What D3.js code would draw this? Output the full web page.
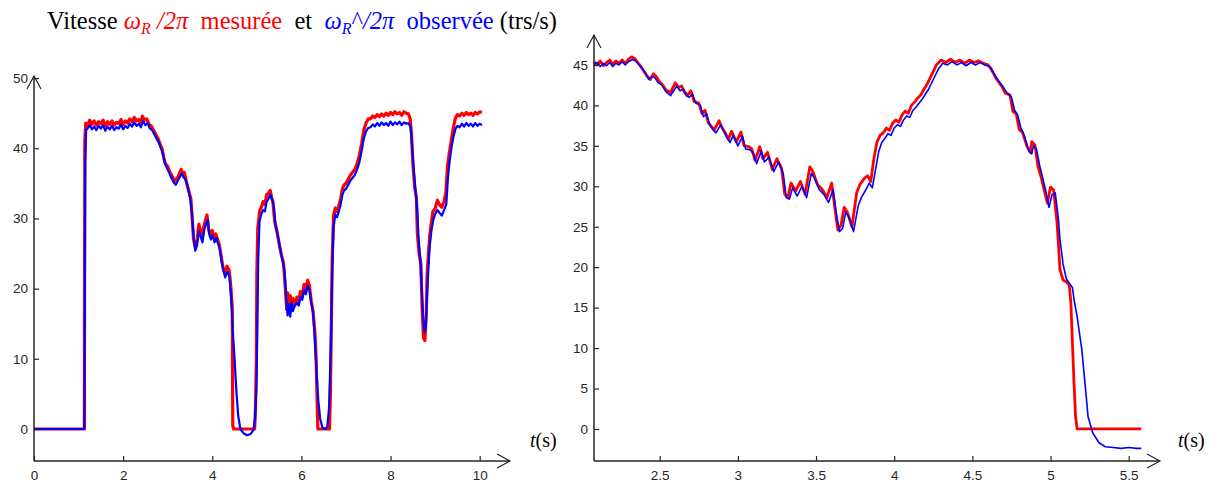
<!DOCTYPE html>
<html><head><meta charset="utf-8">
<script src="https://cdn.jsdelivr.net/npm/d3@7"></script>
<style>
html,body{margin:0;padding:0;background:#fff;}
svg{display:block;}
</style></head>
<body>
<svg id="chart" width="1217" height="486"></svg>
<script>
// ---------- DATA ----------
const leftXTicks = [0, 2, 4, 6, 8, 10];
const leftYTicks = [0, 10, 20, 30, 40, 50];
const rightXTicks = [2.5, 3, 3.5, 4, 4.5, 5, 5.5];
const rightYTicks = [0, 5, 10, 15, 20, 25, 30, 35, 40, 45];

const leftRedT = [0,1.13,1.14,1.16,1.2,1.25,1.3,1.35,1.4,1.45,1.5,1.55,1.6,1.65,1.7,1.75,1.8,1.85,1.9,1.95,2.0,2.05,2.1,2.15,2.2,2.25,2.3,2.35,2.4,2.43,2.48,2.53,2.58,2.63,2.68,2.73,2.78,2.83,2.88,2.92,2.95,3.0,3.05,3.1,3.15,3.2,3.25,3.3,3.33,3.37,3.42,3.47,3.52,3.55,3.58,3.62,3.66,3.7,3.74,3.77,3.8,3.84,3.88,3.92,3.96,4.0,4.04,4.08,4.12,4.16,4.2,4.24,4.28,4.33,4.38,4.42,4.45,4.46,4.48,4.95,4.97,4.99,5.0,5.02,5.06,5.1,5.14,5.18,5.22,5.26,5.3,5.33,5.36,5.4,5.45,5.5,5.55,5.6,5.64,5.67,5.69,5.72,5.75,5.78,5.81,5.85,5.9,5.94,5.98,6.02,6.06,6.1,6.14,6.18,6.22,6.26,6.3,6.33,6.36,6.37,6.63,6.65,6.67,6.69,6.72,6.76,6.8,6.84,6.88,6.92,6.96,7.0,7.05,7.1,7.15,7.2,7.25,7.3,7.35,7.4,7.45,7.5,7.55,7.6,7.65,7.7,7.75,7.8,7.85,7.9,7.95,8.0,8.05,8.1,8.15,8.2,8.25,8.3,8.35,8.4,8.44,8.47,8.5,8.54,8.58,8.6,8.64,8.68,8.71,8.74,8.77,8.8,8.82,8.85,8.88,8.92,8.95,9.0,9.05,9.1,9.15,9.2,9.24,9.28,9.32,9.36,9.4,9.45,9.5,9.55,9.6,9.65,9.7,9.75,9.8,9.85,9.9,9.95,10.0,10.05];
const leftRedV = [0,0,41,43.6,43.2,44.0,43.4,43.9,43.3,43.8,43.5,44.0,43.2,43.8,43.4,43.9,43.3,43.7,43.5,44.1,43.4,43.9,43.6,44.2,43.8,44.4,43.9,44.1,43.6,44.6,44.0,44.2,43.4,43.2,42.6,42.0,41.4,40.6,39.8,38.4,37.8,37.4,36.6,36.0,35.4,35.6,36.2,37.0,36.3,36.6,35.2,34.0,32.8,30.0,27.0,25.8,27.0,29.2,28.0,27.2,28.6,29.6,30.5,28.4,27.6,28.3,27.2,27.8,27.0,26.2,24.6,23.0,22.2,23.2,22.6,20.0,17.0,0.5,0,0,3,10,22,28.5,31.0,31.6,32.4,32.0,33.4,33.6,34.0,33.0,32.4,29.6,28.2,26.4,24.8,23.6,20.0,17.0,19.4,16.6,19.0,17.2,18.6,17.6,18.8,18.2,19.6,19.0,20.6,20.0,21.2,20.4,18.2,16.8,14.0,10.0,2.0,0,0,5,14,24,30.4,31.5,31.0,31.8,32.8,34.2,34.8,35.0,35.6,36.2,36.6,37.0,37.8,39.0,40.6,42.6,43.6,44.2,44.2,44.6,44.4,44.8,44.5,44.9,44.6,45.0,44.7,45.1,44.8,45.2,44.9,45.1,44.7,45.2,45.0,44.9,44.2,42.0,38.0,34.5,33.0,28.0,25.0,23.5,17.0,13.0,12.6,16.0,22.0,25.0,27.6,29.6,31.0,31.4,32.6,32.0,31.6,32.4,33.6,37.6,39.4,41.0,42.6,44.2,44.8,44.6,45.0,44.7,45.1,44.8,45.0,44.7,45.1,44.9,45.2,45.1];

const leftBlueT = [0,1.13,1.15,1.17,1.2,1.25,1.3,1.35,1.4,1.45,1.5,1.55,1.6,1.65,1.7,1.75,1.8,1.85,1.9,1.95,2.0,2.05,2.1,2.15,2.2,2.25,2.3,2.35,2.4,2.45,2.5,2.55,2.6,2.65,2.7,2.75,2.8,2.85,2.9,2.94,2.98,3.03,3.08,3.13,3.18,3.23,3.28,3.32,3.36,3.4,3.45,3.5,3.54,3.58,3.62,3.66,3.7,3.74,3.78,3.82,3.86,3.9,3.93,3.97,4.01,4.05,4.09,4.13,4.17,4.21,4.25,4.29,4.34,4.39,4.43,4.46,4.5,4.54,4.58,4.63,4.7,4.78,4.86,4.92,4.96,4.99,5.01,5.03,5.06,5.1,5.14,5.18,5.22,5.26,5.3,5.34,5.38,5.42,5.47,5.52,5.57,5.62,5.66,5.69,5.72,5.75,5.78,5.81,5.85,5.9,5.94,5.98,6.02,6.06,6.1,6.14,6.18,6.22,6.26,6.3,6.34,6.38,6.42,6.47,6.53,6.58,6.62,6.66,6.69,6.72,6.76,6.8,6.84,6.88,6.92,6.96,7.0,7.05,7.1,7.15,7.2,7.25,7.3,7.35,7.4,7.45,7.5,7.55,7.6,7.65,7.7,7.75,7.8,7.85,7.9,7.95,8.0,8.05,8.1,8.15,8.2,8.25,8.3,8.35,8.4,8.45,8.48,8.52,8.56,8.6,8.63,8.67,8.7,8.73,8.76,8.79,8.82,8.85,8.88,8.92,8.96,9.0,9.05,9.1,9.15,9.2,9.25,9.29,9.33,9.37,9.41,9.46,9.5,9.55,9.6,9.65,9.7,9.75,9.8,9.85,9.9,9.95,10.0,10.05];
const leftBlueV = [0,0,38,42.6,42.8,43.3,42.7,43.1,42.6,43.2,42.8,43.3,42.5,43.1,42.7,43.2,42.6,43.0,42.8,43.4,42.7,43.2,42.9,43.5,43.1,43.7,43.2,43.5,43.0,43.9,43.3,43.6,42.8,42.6,42.0,41.4,40.8,40.0,39.0,37.8,37.2,36.6,35.8,35.2,34.8,35.4,36.0,36.4,35.8,35.6,34.4,33.0,31.0,27.5,25.4,26.2,28.2,27.4,26.6,28.4,29.2,29.8,27.8,27.0,27.6,26.6,27.2,26.4,25.6,23.8,22.6,21.6,22.4,21.6,18.0,14.0,10.0,5.5,2.0,0.0,-0.6,-0.9,-0.7,-0.2,1.5,6,14,24,29.6,30.6,31.2,31.0,32.4,32.8,33.4,32.8,31.8,29.0,27.6,25.8,24.2,22.6,18.6,16.2,17.8,16.0,18.0,16.8,17.6,18.0,17.6,18.8,18.4,19.8,19.2,20.4,19.8,18.0,16.6,13.0,8.0,4.0,1.5,0.2,0.0,0.3,3.0,12,22,28.6,30.6,30.2,31.0,32.0,33.4,34.0,34.2,34.8,35.4,35.8,36.2,37.0,38.0,39.6,41.4,42.4,42.9,43.0,43.4,43.1,43.6,43.2,43.7,43.3,43.6,43.2,43.8,43.3,43.7,43.4,43.8,43.3,43.7,43.5,43.6,43.0,40.5,37.0,34.0,31.0,27.0,24.0,20.0,16.0,13.8,14.5,19.0,23.0,26.2,28.4,29.8,30.6,31.2,30.8,30.4,31.2,32.0,36.0,38.4,40.2,41.6,42.8,43.2,43.0,43.5,43.1,43.6,43.2,43.5,43.1,43.6,43.2,43.5,43.3];

const rightRedT = [2.08,2.1,2.12,2.14,2.16,2.18,2.2,2.22,2.24,2.26,2.28,2.3,2.32,2.34,2.36,2.38,2.4,2.42,2.44,2.46,2.48,2.5,2.52,2.54,2.57,2.6,2.62,2.64,2.66,2.68,2.7,2.72,2.75,2.77,2.79,2.81,2.83,2.85,2.88,2.9,2.92,2.94,2.96,2.99,3.02,3.04,3.07,3.09,3.11,3.14,3.16,3.19,3.22,3.25,3.28,3.3,3.32,3.34,3.37,3.4,3.43,3.46,3.48,3.51,3.54,3.57,3.6,3.62,3.64,3.66,3.68,3.7,3.73,3.76,3.78,3.81,3.83,3.85,3.87,3.89,3.91,3.93,3.95,3.97,3.99,4.01,4.03,4.05,4.07,4.09,4.11,4.13,4.15,4.17,4.19,4.21,4.23,4.25,4.27,4.3,4.33,4.36,4.39,4.42,4.45,4.48,4.51,4.54,4.57,4.6,4.62,4.65,4.69,4.71,4.74,4.76,4.78,4.8,4.82,4.85,4.87,4.88,4.9,4.92,4.94,4.96,4.98,5.0,5.02,5.04,5.05,5.06,5.08,5.1,5.12,5.13,5.14,5.15,5.16,5.17,5.58];
const rightRedV = [45.4,45.0,45.5,44.9,45.3,45.6,45.1,45.5,45.2,45.6,45.2,45.7,46.0,45.8,45.3,44.8,44.2,43.6,43.2,43.9,43.5,42.9,42.5,41.9,41.6,42.8,42.2,42.4,41.6,41.3,41.8,40.5,40.3,39.0,39.4,37.9,37.4,37.0,38.1,37.2,36.6,35.8,36.8,35.5,36.7,35.0,34.9,34.6,33.2,34.9,33.4,34.2,32.1,33.4,32.2,29.0,28.6,30.4,29.4,30.6,29.0,32.4,31.8,30.2,29.6,28.6,30.4,27.4,24.6,25.2,27.4,26.8,25.0,29.2,30.2,31.0,31.3,30.6,33.4,35.5,36.3,36.6,37.2,36.9,37.8,38.2,37.9,38.8,39.3,39.0,40.0,40.4,40.9,41.3,42.0,42.6,43.4,44.2,45.0,45.6,45.3,45.7,45.3,45.6,45.2,45.6,45.3,45.5,45.2,45.0,44.5,43.4,42.3,41.5,41.3,39.2,39.0,37.0,36.7,34.9,34.2,35.5,35.1,32.4,31.1,29.5,27.9,29.9,29.5,25.8,23.0,19.7,18.4,18.2,17.8,15.6,10.6,5.7,1.5,0,0];

const rightBlueT = [2.08,2.1,2.12,2.14,2.16,2.18,2.2,2.22,2.24,2.26,2.28,2.3,2.33,2.35,2.37,2.39,2.41,2.43,2.45,2.47,2.49,2.51,2.54,2.57,2.61,2.63,2.65,2.67,2.69,2.71,2.73,2.76,2.78,2.8,2.82,2.84,2.86,2.89,2.91,2.93,2.95,2.97,3.0,3.03,3.05,3.08,3.1,3.12,3.15,3.17,3.2,3.23,3.26,3.29,3.31,3.33,3.35,3.38,3.41,3.44,3.47,3.49,3.52,3.55,3.58,3.61,3.63,3.65,3.67,3.69,3.71,3.74,3.77,3.79,3.82,3.84,3.86,3.88,3.9,3.92,3.94,3.96,3.98,4.0,4.02,4.04,4.06,4.08,4.1,4.12,4.14,4.16,4.18,4.2,4.22,4.24,4.26,4.28,4.31,4.34,4.37,4.4,4.43,4.46,4.49,4.52,4.55,4.58,4.61,4.63,4.66,4.7,4.72,4.75,4.77,4.79,4.81,4.83,4.86,4.88,4.89,4.91,4.93,4.95,4.97,4.99,5.01,5.03,5.05,5.06,5.08,5.1,5.12,5.14,5.15,5.17,5.2,5.22,5.24,5.27,5.31,5.35,5.4,5.45,5.5,5.55,5.58];
const rightBlueV = [45.0,45.3,44.8,45.2,44.9,45.3,44.8,45.2,45.0,45.4,45.0,45.4,45.7,45.4,45.0,44.5,44.0,43.2,43.6,43.4,42.8,42.6,41.7,41.2,42.4,41.8,42.0,41.2,41.0,41.4,40.3,40.0,38.6,39.0,37.6,37.0,36.6,37.6,36.8,36.0,35.4,36.3,35.0,36.2,34.6,34.5,34.0,32.8,34.4,33.0,33.6,31.8,33.0,31.6,28.6,28.4,29.8,28.8,30.0,28.6,31.6,31.0,29.6,29.0,28.0,29.6,26.6,24.4,24.8,26.8,26.2,24.4,27.6,28.6,29.6,30.4,29.8,32.0,34.2,35.4,35.9,36.5,36.3,37.2,37.6,37.4,38.2,38.7,38.5,39.4,39.8,40.3,40.8,41.4,42.0,42.8,43.6,44.4,45.2,45.0,45.4,45.0,45.3,44.9,45.3,45.0,45.3,45.0,44.8,44.2,43.2,42.2,41.6,41.0,39.4,38.8,37.2,36.4,34.4,34.0,35.0,34.6,32.6,31.0,29.4,27.4,29.0,29.2,26.0,23.5,20.4,18.6,18.0,17.5,16.0,13.9,9.8,5.7,1.5,-0.5,-1.7,-2.2,-2.3,-2.4,-2.3,-2.4,-2.4];

// ---------- DRAWING ----------
const svg = d3.select("#chart");
const axisColor = "#262626";
const RED = "#ff0000", BLUE = "#0000ff";

function panel(cfg) {
  const x = d3.scaleLinear().domain(cfg.xDomain).range(cfg.xRange);
  const y = d3.scaleLinear().domain(cfg.yDomain).range(cfg.yRange);
  const g = svg.append("g");

  const line = d3.line().x(d => x(d[0])).y(d => y(d[1])).curve(d3.curveLinear);
  cfg.series.forEach(s => {
    g.append("path")
      .datum(d3.zip(s.t, s.v))
      .attr("fill", "none")
      .attr("stroke", s.color)
      .attr("stroke-width", s.width)
      .attr("stroke-linejoin", "round")
      .attr("d", line);
  });

  const xAxis = d3.axisBottom(x).tickValues(cfg.xTicks).tickSizeInner(-5).tickSizeOuter(0).tickPadding(9)
    .tickFormat(d3.format("~g"));
  const gx = g.append("g").attr("transform", `translate(0,${cfg.yRange[0]})`).call(xAxis);
  const yAxis = d3.axisLeft(y).tickValues(cfg.yTicks).tickSizeInner(-5).tickSizeOuter(0).tickPadding(6)
    .tickFormat(d3.format("~g"));
  const gy = g.append("g").attr("transform", `translate(${cfg.xRange[0]},0)`).call(yAxis);

  [gx, gy].forEach(a => {
    a.select(".domain").remove();
    a.selectAll(".tick line").attr("stroke", axisColor).attr("stroke-width", 1.2);
    a.selectAll(".tick text").attr("fill", axisColor)
      .style("font-family", "'Liberation Sans', Arial, sans-serif").style("font-size", "13.5px");
  });

  const x0 = cfg.xRange[0], x1 = cfg.xRange[1], y0 = cfg.yRange[0], y1 = cfg.yRange[1];
  g.append("line").attr("x1", x0).attr("x2", x1).attr("y1", y0).attr("y2", y0)
    .attr("stroke", axisColor).attr("stroke-width", 1.5);
  g.append("line").attr("x1", x0).attr("x2", x0).attr("y1", y0).attr("y2", y1)
    .attr("stroke", axisColor).attr("stroke-width", 1.5);
  g.append("path").attr("d", `M${x0 - 7},${y1 + 13}L${x0},${y1}L${x0 + 7},${y1 + 13}`)
    .attr("fill", "none").attr("stroke", axisColor).attr("stroke-width", 1.2);
  g.append("path").attr("d", `M${x1 - 13},${y0 - 7}L${x1},${y0}L${x1 - 13},${y0 + 7}`)
    .attr("fill", "none").attr("stroke", axisColor).attr("stroke-width", 1.2);

  const tl = g.append("text").attr("x", cfg.tLabelX).attr("y", y0 - 14)
    .style("font-family", "'Liberation Serif', 'Times New Roman', serif").style("font-size", "20px").attr("fill", "#000");
  tl.append("tspan").style("font-style", "italic").text("t");
  tl.append("tspan").text("(s)");
}

panel({
  xDomain: [0, 10.68], xRange: [34, 510],
  yDomain: [-4.56, 50.3], yRange: [461, 76],
  xTicks: leftXTicks, yTicks: leftYTicks,
  tLabelX: 530,
  series: [
    {t: leftRedT, v: leftRedV, color: RED, width: 3.2},
    {t: leftBlueT, v: leftBlueV, color: BLUE, width: 2.2}
  ]
});

panel({
  xDomain: [2.08, 5.7], xRange: [594, 1160],
  yDomain: [-3.96, 48.7], yRange: [461, 35],
  xTicks: rightXTicks, yTicks: rightYTicks,
  tLabelX: 1178,
  series: [
    {t: rightRedT, v: rightRedV, color: RED, width: 2.8},
    {t: rightBlueT, v: rightBlueV, color: BLUE, width: 1.6}
  ]
});

// title
const title = svg.append("text").attr("x", 47).attr("y", 29)
  .style("font-family", "'Liberation Serif', 'Times New Roman', serif").style("font-size", "24.5px")
  .attr("xml:space", "preserve").style("white-space", "pre");
title.append("tspan").attr("fill", "#000").text("Vitesse ");
title.append("tspan").attr("fill", RED).style("font-style", "italic").text("ω");
title.append("tspan").attr("fill", RED).style("font-style", "italic").style("font-size", "16px").attr("dy", 5).text("R");
title.append("tspan").attr("fill", RED).style("font-style", "italic").attr("dy", -5).text(" /2π");
title.append("tspan").attr("fill", RED).text("  mesurée");
title.append("tspan").attr("fill", "#000").text("  et  ");
title.append("tspan").attr("fill", BLUE).style("font-style", "italic").text("ω");
title.append("tspan").attr("fill", BLUE).style("font-style", "italic").style("font-size", "16px").attr("dy", 5).text("R");
title.append("tspan").attr("fill", BLUE).attr("dy", -5).text("^");
title.append("tspan").attr("fill", BLUE).style("font-style", "italic").text("/2π");
title.append("tspan").attr("fill", BLUE).text("  observée");
title.append("tspan").attr("fill", "#000").text(" (trs/s)");
</script>
</body></html>
